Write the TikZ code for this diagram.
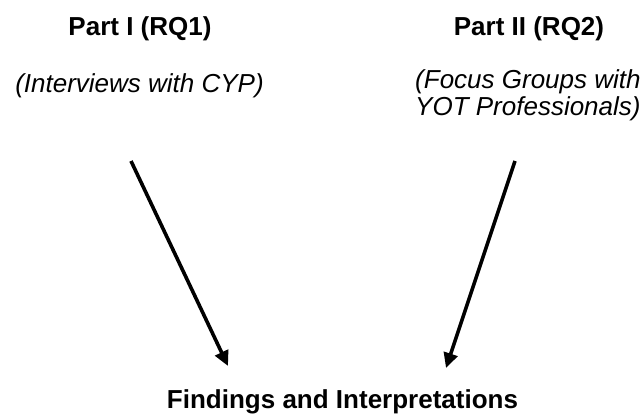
\documentclass[tikz,border=0pt]{standalone}
\usepackage{fontspec}
\setmainfont{Liberation Sans}
\usetikzlibrary{arrows.meta}
\begin{document}
\begin{tikzpicture}[x=1pt,y=-1pt,
  head/.style={font=\fontsize{26}{30}\selectfont\bfseries, inner sep=0pt, anchor=base},
  sub/.style={font=\fontsize{26}{27}\selectfont\itshape, inner sep=0pt},
  flow/.style={line width=3.6pt, -{Triangle[length=15pt,width=14pt]}}]
\useasboundingbox[fill=white] (0,0) rectangle (644,414);
\node[head] (p1) at (140,36) {Part I (RQ1)};
\node[head] (p2) at (529,36) {Part II (RQ2)};
\node[sub, anchor=base] (i1) at (139.5,93) {(Interviews with CYP)};
\node[sub, anchor=base west] (i2) at (415,89) {\begin{tabular}[t]{@{}l@{}}(Focus Groups with\\ YOT Professionals)\end{tabular}};
\node[head] (f) at (342.5,408) {Findings and Interpretations};
\coordinate (s1) at (131,161);
\coordinate (e1) at (228,366);
\coordinate (s2) at (515,161);
\coordinate (e2) at (446,368);
\draw[flow] (s1) -- (e1);
\draw[flow] (s2) -- (e2);
\end{tikzpicture}
\end{document}
